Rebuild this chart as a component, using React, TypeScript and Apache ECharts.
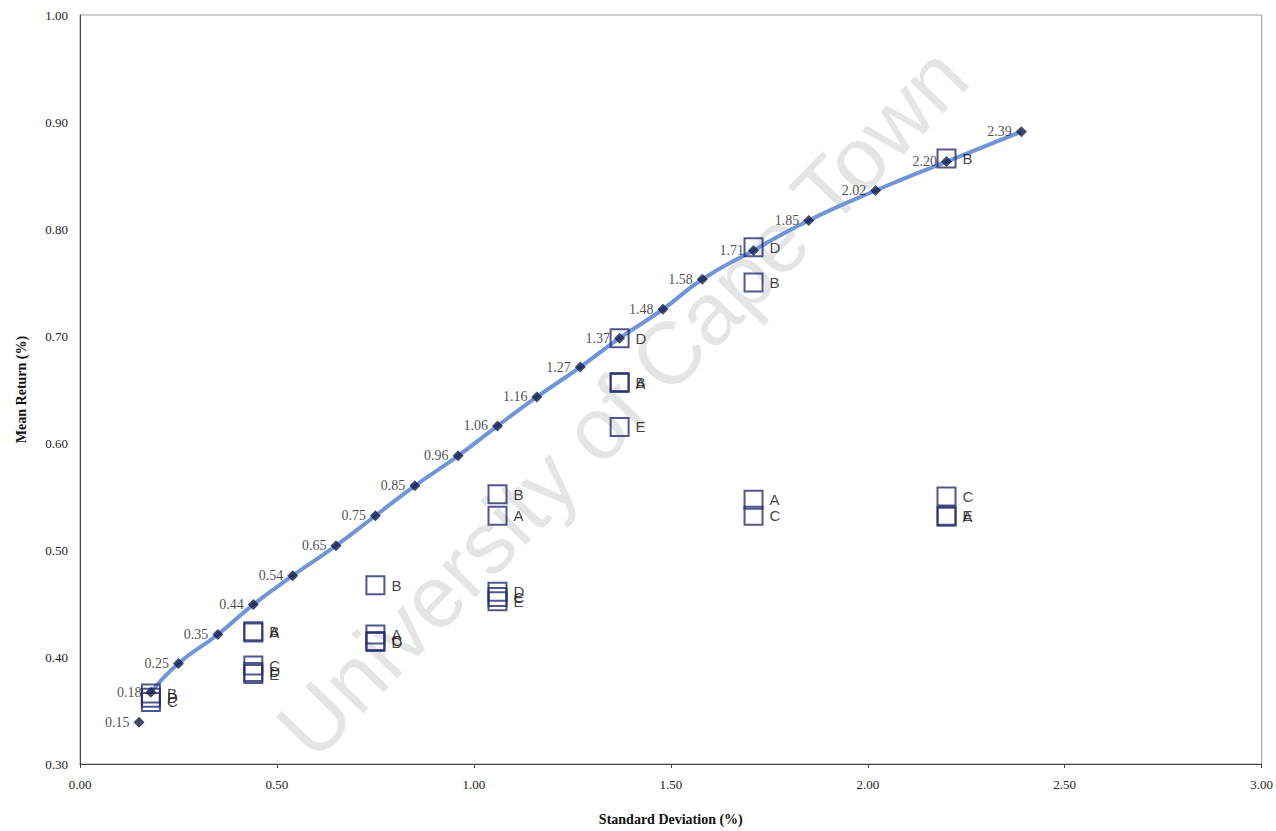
import React, { useEffect, useRef } from "react";
import * as echarts from "echarts";

// Efficient frontier portfolios (standard deviation %, mean return %)
const frontierSD = [0.15, 0.18, 0.25, 0.35, 0.44, 0.54, 0.65, 0.75, 0.85, 0.96, 1.06, 1.16, 1.27, 1.37, 1.48, 1.58, 1.71, 1.85, 2.02, 2.2, 2.39];
const frontierReturn = [0.339, 0.367, 0.394, 0.421, 0.449, 0.476, 0.504, 0.532, 0.56, 0.588, 0.616, 0.643, 0.671, 0.698, 0.725, 0.753, 0.78, 0.808, 0.836, 0.863, 0.891];

// Alternative portfolios A-E at selected risk levels
const portfolioSD = [
  0.18, 0.18, 0.18,
  0.44, 0.44, 0.44, 0.44, 0.44,
  0.75, 0.75, 0.75, 0.75,
  1.06, 1.06, 1.06, 1.06, 1.06,
  1.37, 1.37, 1.37, 1.37,
  1.71, 1.71, 1.71, 1.71,
  2.2, 2.2, 2.2, 2.2,
];
const portfolioReturn = [
  0.366, 0.362, 0.358,
  0.424, 0.423, 0.392, 0.386, 0.384,
  0.467, 0.421, 0.415, 0.414,
  0.552, 0.532, 0.461, 0.456, 0.452,
  0.698, 0.657, 0.656, 0.615,
  0.783, 0.75, 0.547, 0.532,
  0.866, 0.55, 0.532, 0.531,
];
const portfolioLabel = [
  "B", "D", "C",
  "B", "A", "C", "D", "E",
  "B", "A", "C", "D",
  "B", "A", "D", "C", "E",
  "D", "B", "A", "E",
  "D", "B", "A", "C",
  "B", "C", "E", "A",
];

const xTicks = [0, 0.5, 1, 1.5, 2, 2.5, 3];
const yTicks = [0.3, 0.4, 0.5, 0.6, 0.7, 0.8, 0.9, 1.0];

export default function App() {
  const ref = useRef<HTMLDivElement>(null);
  useEffect(() => {
    if (!ref.current) return;
    const chart = echarts.init(ref.current, null, { renderer: "svg" });
    const serif = "Liberation Serif";
    const sans = "Liberation Sans";
    const frontierData = frontierSD.map((x, i) => [x, frontierReturn[i]]);
    const squares = portfolioSD.map((x, i) => ({
      value: [x, portfolioReturn[i]],
      label: { formatter: portfolioLabel[i] },
    }));
    chart.setOption({
      animation: false,
      backgroundColor: "#ffffff",
      grid: {
        left: 80,
        right: 14,
        top: 15,
        bottom: 66,
        show: true,
        borderColor: "#9a9a9a",
        borderWidth: 1,
      },
      graphic: [
        {
          type: "text",
          x: 622,
          y: 402,
          rotation: (46 * Math.PI) / 180,
          z: 0,
          style: {
            text: "University of Cape Town",
            font: "88px 'Liberation Sans'",
            fill: "rgba(170,170,170,0.3)",
            textAlign: "center",
            textVerticalAlign: "middle",
          },
        },
      ],
      xAxis: {
        type: "value",
        min: xTicks[0],
        max: xTicks[xTicks.length - 1],
        interval: 0.5,
        name: "Standard Deviation (%)",
        nameLocation: "middle",
        nameGap: 48,
        nameTextStyle: { fontFamily: serif, fontWeight: "bold", fontSize: 14, color: "#111" },
        axisLine: { show: true, lineStyle: { color: "#444", width: 1 } },
        axisTick: { show: true, length: 4, lineStyle: { color: "#444" } },
        splitLine: { show: false },
        axisLabel: {
          fontFamily: serif,
          fontSize: 13,
          color: "#222",
          margin: 14,
          formatter: (v: number) => v.toFixed(2),
        },
      },
      yAxis: {
        type: "value",
        min: yTicks[0],
        max: yTicks[yTicks.length - 1],
        interval: 0.1,
        name: "Mean Return (%)",
        nameLocation: "middle",
        nameGap: 52,
        nameRotate: 90,
        nameTextStyle: { fontFamily: serif, fontWeight: "bold", fontSize: 14, color: "#111" },
        axisLine: { show: true, lineStyle: { color: "#444", width: 1 } },
        axisTick: { show: false },
        splitLine: { show: false },
        axisLabel: {
          fontFamily: serif,
          fontSize: 13,
          color: "#222",
          margin: 12,
          formatter: (v: number) => v.toFixed(2),
        },
      },
      series: [
        {
          type: "line",
          data: frontierData.slice(1),
          smooth: true,
          showSymbol: false,
          lineStyle: { color: "#6f95d8", width: 4 },
          z: 2,
        },
        {
          type: "scatter",
          data: squares,
          symbol: "rect",
          symbolSize: 18,
          itemStyle: { color: "rgba(255,255,255,0)", borderColor: "#232d72", borderWidth: 2 },
          label: {
            show: true,
            position: "right",
            distance: 6,
            fontFamily: sans,
            fontSize: 15,
            color: "#111",
          },
          z: 3,
        },
        {
          type: "scatter",
          data: frontierData,
          symbol: "diamond",
          symbolSize: 11,
          itemStyle: { color: "#111b48" },
          label: {
            show: true,
            position: "left",
            distance: 4,
            fontFamily: serif,
            fontSize: 14,
            color: "#1a1a1a",
            formatter: (p: any) => p.value[0].toFixed(2),
          },
          z: 4,
        },
      ],
    });
    return () => chart.dispose();
  }, []);
  return (
    <div
      ref={ref}
      style={{ position: "fixed", left: 0, top: 0, width: 1276, height: 831 }}
    />
  );
}
